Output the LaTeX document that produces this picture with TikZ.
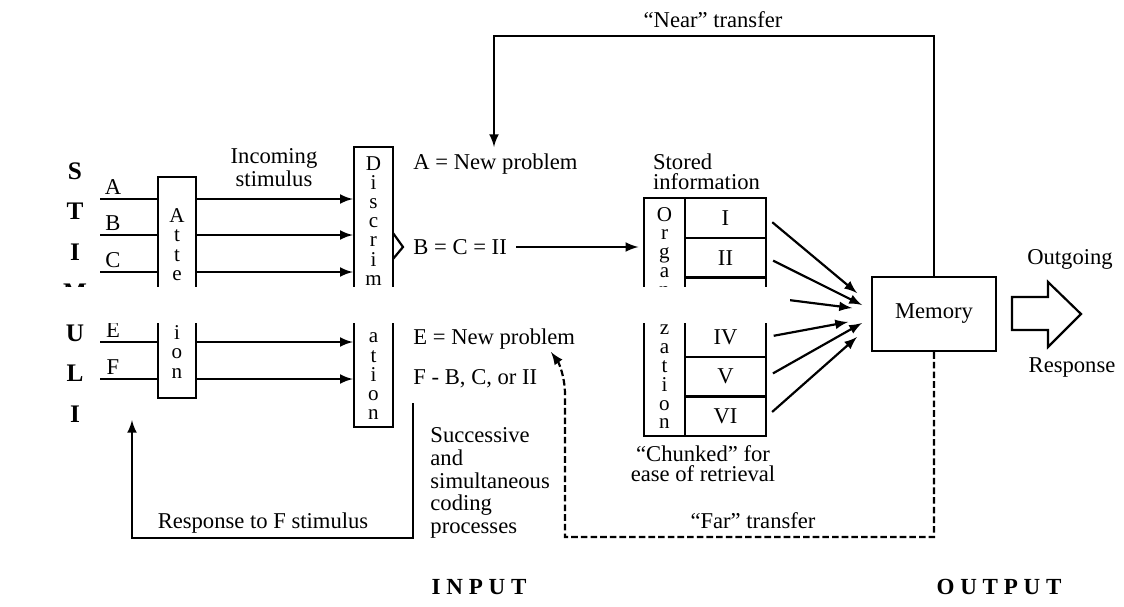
\documentclass[tikz,border=0pt]{standalone}
\usepackage{fontspec}
\setmainfont{Liberation Serif}
\newfontfamily\spacedbf[LetterSpace=25]{Liberation Serif}
\usetikzlibrary{arrows}

\begin{document}
\begin{tikzpicture}[x=0.016cm, y=-0.016cm,
        every node/.append style={font=\fontsize{10.3}{9}\selectfont, inner sep=0pt},
        box/.style={draw, line width=1.1pt},
        ltr/.style={anchor=base, font=\fontsize{9.6}{9}\selectfont},
        big/.style={font=\fontsize{11.5}{12}\selectfont\bfseries},
        link/.style={line width=1pt},
        farlink/.style={line width=1pt, dash pattern=on 3pt off 1.4pt}]
    \useasboundingbox (0,0) rectangle (1124,606);

    \foreach \l [count=\i] in {S,T,I,M,U,L,I}
        \node [big] (st\i) at (75,130.5+40.5*\i) {\l};

    \foreach \l/\y in {A/199,B/235,C/272,D/308,E/342,F/379} {
        \coordinate (s\l) at (100,\y);
        \node (l\l) at (113,\y-12) {\l};
    }

    \node [box, minimum width=0.608cm, minimum height=3.536cm] (attn) at (177,287.5) {};
    \node [box, minimum width=0.624cm, minimum height=4.48cm] (disc) at (373.5,287) {};
    \node [box, minimum width=0.656cm, minimum height=3.808cm] (orgn) at (664.5,317) {};
    \node [box, minimum width=1.984cm, minimum height=1.184cm] (mem) at (934,314) {Memory};

    \foreach \l [count=\i] in {A,t,t,e,n,t,i,o,n}
        \node [ltr] (at\i) at (177,202.5+19.5*\i) {\l};
    \foreach \l [count=\i] in {D,i,s,c,r,i,m,i,n,a,t,i,o,n}
        \node [ltr] (di\i) at (373.5,150.8+19.2*\i) {\l};
    \foreach \l [count=\i] in {O,r,g,a,n,i,z,a,t,i,o,n}
        \node [ltr] (or\i) at (664.5,202.1+18.9*\i) {\l};
    \foreach \r [count=\i] in {I,II,III,IV,V,VI}
        \node [box, minimum width=1.296cm, minimum height=0.635cm] (r\i) at (725.5,178.3+39.67*\i) {\r};

    \foreach \l in {A,B,C,D,E,F} {
        \draw [link] (s\l) -- (s\l -| attn.west);
        \draw [link, -latex] (s\l -| attn.east) -- (s\l -| disc.west);
    }

    \node (inc) [align=center] at (274,168) {Incoming\\stimulus};
    \node (anew) [anchor=base west] at (413,169.5) {A = New problem};
    \node (bcii) [anchor=base west] at (413,254.5) {B = C = II};
    \node (enew) [anchor=base west] at (413,344.5) {E = New problem};
    \node (fbc) [anchor=base west] at (413,384.5) {F - B, C, or II};
    \node (stor) [align=left] at (706.5,172) {Stored\\information};
    \node (chk) [align=center] at (703,464) {``Chunked'' for\\ease of retrieval};
    \node (succ) [align=left, anchor=north west, font=\fontsize{10.3}{10.4}\selectfont] at (430,427) {Successive\\and\\simultaneous\\coding\\processes};
    \node (resp) at (263,523) {Response to F stimulus};
    \node (near) at (713,20) {``Near'' transfer};
    \node (far) at (753,521) {``Far'' transfer};
    \node (outg) at (1070,259) {Outgoing};
    \node (outr) at (1072,367) {Response};
    \node (inp) [font=\fontsize{10.5}{11}\spacedbf\bfseries] at (479,587) {INPUT};
    \node (outp) [font=\fontsize{10.5}{11}\spacedbf\bfseries] at (999,587) {OUTPUT};

    \coordinate (chev) at (403,247);
    \draw [link] (chev) ++(-10,-14) -- (chev) -- ++(-10,12);
    \draw [link, -latex, shorten <=4pt, shorten >=2pt] (bcii.east |- chev) -- (orgn.west |- chev);

    \coordinate (m1) at (857,293);
    \coordinate (m2) at (862,305);
    \coordinate (m3) at (852,308);
    \coordinate (m4) at (848,322);
    \coordinate (m5) at (862,323);
    \coordinate (m6) at (857,337);
    \foreach \i in {1,...,6}
        \draw [link, -latex, shorten <=3pt] (r\i.east) -- (m\i);

    \coordinate (ntop) at (494,36);
    \coordinate (nend) at (494,147);
    \draw [link, -latex] (mem.north) |- (ntop) -- (nend);

    \coordinate (fcorner) at (565,537);
    \coordinate (fup) at (565,395);
    \coordinate (fend) at (551,352);
    \draw [farlink, -latex] (mem.south) |- (fcorner) -- (fup) .. controls (565,377) and (559,363) .. (fend);

    \coordinate (rtop) at (413,403);
    \coordinate (rcorner) at (132,538);
    \coordinate (rend) at (132,420);
    \draw [link, -latex] (rtop) |- (rcorner) -- (rend);

    \draw [link, line join=miter] (1012,297) -- (1048,297) -- (1048,282) -- (1081,314)
        -- (1048,347) -- (1048,330) -- (1012,330) -- cycle;

    \fill [white] (0,287) rectangle (790,323);
\end{tikzpicture}
\end{document}
